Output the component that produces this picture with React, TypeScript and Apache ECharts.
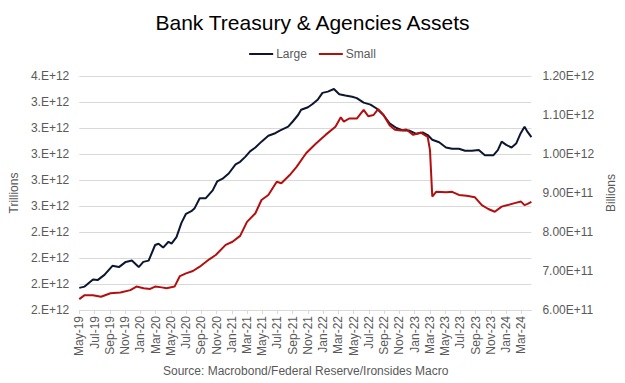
import React, { useEffect, useRef } from "react";
import * as echarts from "echarts";

// x = months since May-2019 (0 = 1 May 2019)
const monthTickLabels = [
  "May-19", "Jul-19", "Sep-19", "Nov-19", "Jan-20", "Mar-20", "May-20", "Jul-20",
  "Sep-20", "Nov-20", "Jan-21", "Mar-21", "May-21", "Jul-21", "Sep-21", "Nov-21",
  "Jan-22", "Mar-22", "May-22", "Jul-22", "Sep-22", "Nov-22", "Jan-23", "Mar-23",
  "May-23", "Jul-23", "Sep-23", "Nov-23", "Jan-24", "Mar-24",
];
const leftTickLabels = ["2.E+12", "2.E+12", "2.E+12", "2.E+12", "3.E+12", "3.E+12", "3.E+12", "3.E+12", "3.E+12", "4.E+12"];
const rightTickLabels = ["6.00E+11", "7.00E+11", "8.00E+11", "9.00E+11", "1.00E+12", "1.10E+12", "1.20E+12"];

// Large banks (trillions USD)
const largeX = [0, 0.7, 1.8, 2.4, 3.3, 4.35, 5.2, 6.1, 6.9, 7.8, 8.4, 9.1, 9.95, 10.4, 11.0, 11.7, 12.1, 12.75, 13.4, 14.0, 14.7, 15.1, 15.8, 16.6, 17.5, 18.1, 18.8, 19.6, 20.5, 21.1, 21.8, 22.4, 23.1, 23.9, 24.8, 25.7, 26.3, 27.4, 28.0, 28.7, 29.1, 30.0, 30.6, 31.3, 31.9, 32.6, 33.4, 34.1, 34.9, 35.8, 36.4, 37.3, 38.2, 39.0, 39.9, 40.7, 41.6, 42.5, 43.3, 44.2, 45.1, 45.7, 46.3, 47.2, 48.1, 48.9, 49.8, 50.6, 51.5, 52.4, 53.2, 54.3, 54.9, 55.4, 56.0, 56.7, 57.3, 57.9, 58.4, 58.8, 59.3];
const largeT = [1.97, 1.98, 2.035, 2.03, 2.07, 2.14, 2.13, 2.17, 2.18, 2.13, 2.17, 2.18, 2.30, 2.31, 2.28, 2.325, 2.31, 2.36, 2.47, 2.54, 2.56, 2.58, 2.66, 2.66, 2.72, 2.79, 2.81, 2.85, 2.92, 2.94, 2.98, 3.02, 3.05, 3.095, 3.14, 3.16, 3.18, 3.21, 3.25, 3.30, 3.34, 3.36, 3.385, 3.42, 3.47, 3.48, 3.50, 3.46, 3.45, 3.44, 3.43, 3.395, 3.38, 3.35, 3.30, 3.236, 3.20, 3.18, 3.18, 3.155, 3.165, 3.146, 3.11, 3.09, 3.05, 3.04, 3.04, 3.025, 3.025, 3.03, 2.99, 2.99, 3.03, 3.095, 3.07, 3.05, 3.08, 3.16, 3.21, 3.17, 3.13];

// Small banks (trillions USD)
const smallX = [0, 0.7, 1.8, 2.85, 4.1, 5.4, 6.7, 7.5, 8.45, 9.3, 9.95, 10.8, 11.45, 12.5, 13.2, 14.0, 14.9, 15.8, 17.05, 17.9, 19.2, 20.1, 21.1, 22.0, 23.1, 23.9, 24.8, 25.9, 26.5, 27.6, 28.5, 29.75, 31.05, 32.3, 33.6, 34.3, 34.7, 35.4, 36.4, 37.3, 37.9, 38.6, 39.2, 39.9, 40.7, 41.4, 42.2, 42.9, 43.8, 44.8, 45.7, 46.0, 46.3, 46.8, 48.1, 48.9, 49.8, 50.8, 51.9, 52.8, 53.65, 54.5, 55.4, 56.2, 57.1, 57.95, 58.4, 58.8, 59.3];
const smallT = [0.628, 0.638, 0.638, 0.634, 0.643, 0.645, 0.651, 0.66, 0.656, 0.654, 0.66, 0.658, 0.656, 0.66, 0.687, 0.694, 0.70, 0.711, 0.730, 0.741, 0.767, 0.775, 0.790, 0.826, 0.848, 0.882, 0.895, 0.929, 0.925, 0.946, 0.967, 1.002, 1.027, 1.049, 1.07, 1.094, 1.083, 1.091, 1.091, 1.113, 1.097, 1.10, 1.115, 1.10, 1.074, 1.062, 1.06, 1.063, 1.049, 1.055, 1.044, 1.01, 0.891, 0.903, 0.902, 0.903, 0.895, 0.893, 0.889, 0.869, 0.859, 0.852, 0.865, 0.869, 0.874, 0.878, 0.869, 0.872, 0.877];

const LEFT_MIN = 1.8e12;
const LEFT_STEP = 0.2e12;
const RIGHT_MIN = 6e11;
const RIGHT_STEP = 1e11;

export default function App() {
  const ref = useRef<HTMLDivElement>(null);
  useEffect(() => {
    if (!ref.current) return;
    const chart = echarts.init(ref.current, null, { renderer: "svg" });
    const grey = "#595959";
    const font = "Liberation Sans, Arial, sans-serif";
    chart.setOption({
      animation: false,
      textStyle: { fontFamily: font },
      title: {
        text: "Bank Treasury & Agencies Assets",
        left: "center",
        top: 7,
        textStyle: { fontSize: 21, fontWeight: "normal", color: "#000", fontFamily: font },
      },
      legend: {
        top: 43,
        left: "center",
        icon: "rect",
        itemWidth: 24,
        itemHeight: 2,
        itemGap: 12,
        textStyle: { fontSize: 12, color: grey, fontFamily: font, padding: [0, 0, 0, -2] },
        data: ["Large", "Small"],
      },
      grid: { left: 77, right: 89, top: 76, bottom: 73 },
      xAxis: {
        type: "value",
        min: 0,
        max: 59.3,
        interval: 2,
        axisLine: { show: true, lineStyle: { color: "#d9d9d9" } },
        axisTick: { show: true, length: 4, lineStyle: { color: "#d9d9d9" } },
        splitLine: { show: false },
        axisLabel: {
          rotate: 90,
          fontSize: 12,
          color: grey,
          margin: 6,
          fontFamily: font,
          showMaxLabel: false,
          formatter: (v: number) => {
            const i = Math.round(v / 2);
            return Math.abs(v - i * 2) < 1e-6 && monthTickLabels[i] ? monthTickLabels[i] : "";
          },
        },
      },
      yAxis: [
        {
          type: "value",
          min: LEFT_MIN,
          max: 3.6e12,
          interval: LEFT_STEP,
          name: "Trillions",
          nameLocation: "middle",
          nameRotate: 90,
          nameGap: 54,
          nameTextStyle: { fontSize: 12, color: grey, fontFamily: font },
          axisLine: { show: false },
          axisTick: { show: false },
          splitLine: { lineStyle: { color: "#d9d9d9" } },
          axisLabel: {
            fontSize: 12,
            color: grey,
            margin: 10,
            fontFamily: font,
            formatter: (v: number) => leftTickLabels[Math.round((v - LEFT_MIN) / LEFT_STEP)] ?? "",
          },
        },
        {
          type: "value",
          min: RIGHT_MIN,
          max: 1.2e12,
          interval: RIGHT_STEP,
          name: "Billions",
          nameLocation: "middle",
          nameRotate: 90,
          nameGap: 66,
          nameTextStyle: { fontSize: 12, color: grey, fontFamily: font },
          axisLine: { show: false },
          axisTick: { show: false },
          splitLine: { show: false },
          axisLabel: {
            fontSize: 12,
            color: grey,
            margin: 11,
            fontFamily: font,
            formatter: (v: number) => rightTickLabels[Math.round((v - RIGHT_MIN) / RIGHT_STEP)] ?? "",
          },
        },
      ],
      series: [
        {
          name: "Large",
          type: "line",
          yAxisIndex: 0,
          showSymbol: false,
          symbol: "none",
          lineStyle: { color: "#0d1630", width: 2 },
          itemStyle: { color: "#0d1630" },
          data: largeX.map((x, i) => [x, largeT[i] * 1e12]),
        },
        {
          name: "Small",
          type: "line",
          yAxisIndex: 1,
          showSymbol: false,
          symbol: "none",
          lineStyle: { color: "#b40f0f", width: 2 },
          itemStyle: { color: "#b40f0f" },
          data: smallX.map((x, i) => [x, smallT[i] * 1e12]),
        },
      ],
      graphic: [
        {
          type: "text",
          left: 163,
          top: 365,
          style: {
            text: "Source: Macrobond/Federal Reserve/Ironsides Macro",
            fontSize: 12,
            fill: grey,
            fontFamily: font,
          },
        },
      ],
    });
    return () => chart.dispose();
  }, []);
  return <div ref={ref} style={{ width: 625, height: 383, margin: -8 }} />;
}
